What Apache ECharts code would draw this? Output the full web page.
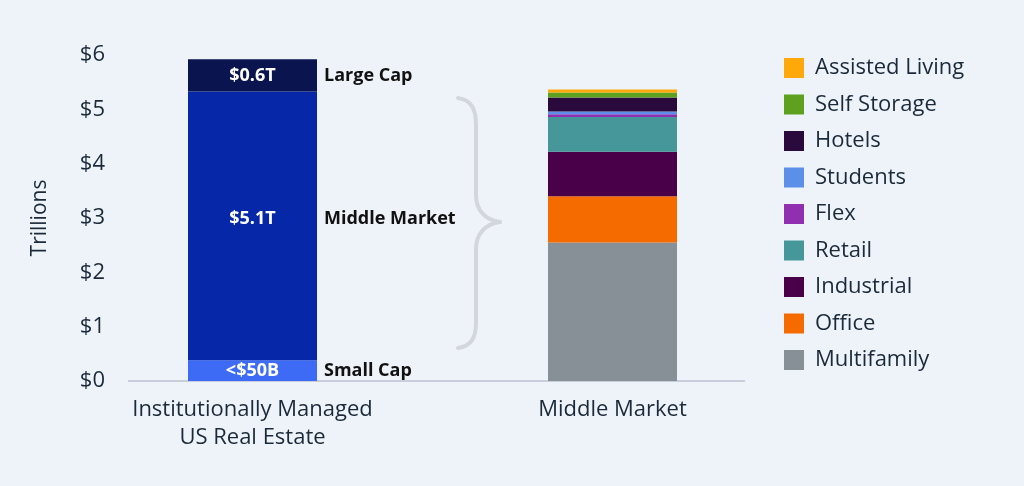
<!DOCTYPE html>
<html lang="en">
<head>
    <meta charset="UTF-8">
    <title>Middle Market</title>
    <style>
        html, body { margin: 0; padding: 0; background: #EEF3F9; }
        #main { width: 1024px; height: 486px; }
    </style>
</head>
<body>
<div id="main"></div>
<script src="https://cdn.jsdelivr.net/npm/echarts@6/dist/echarts.min.js"></script>
<script>
    // category labels on the x axis
    const categories = ['Institutionally Managed\nUS Real Estate', 'Middle Market'];
    const yTicks = [0, 1, 2, 3, 4, 5, 6];

    // left bar: market size by cap (trillions, bottom to top)
    const capNames = ['Small Cap', 'Middle Market', 'Large Cap'];
    const capValues = [0.38, 4.95, 0.59];
    const capLabels = ['<$50B', '$5.1T', '$0.6T'];
    const capColors = ['#3D6BF5', '#0527A8', '#0A1550'];

    // right bar: middle market by sector (trillions, bottom to top)
    const sectorNames = ['Multifamily', 'Office', 'Industrial', 'Retail', 'Flex',
        'Students', 'Hotels', 'Self Storage', 'Assisted Living'];
    const sectorValues = [2.55, 0.85, 0.82, 0.64, 0.05, 0.05, 0.26, 0.09, 0.055];
    const sectorColors = ['#878F97', '#F56B00', '#4A0048', '#46979A', '#9030B0',
        '#5B8FE8', '#2A0A3C', '#5DA11E', '#FFA80A'];

    const ink = '#1B2A3A';
    const font = 'Open Sans';
    const barW = 129;
    // plot area: bars are centred in two bands, axis line drawn from 128 to 745
    const gridLeft = 72.5, gridRight = 231.5, gridTop = 55, gridBottom = 105;
    const axisFrom = 128, axisTo = 745;

    const myChart = echarts.init(document.getElementById('main'));

    // the tall middle segment has its labels a little above centre
    const labelShift = (i) => (i === 1 ? [0, -7] : [0, 0]);

    const series = [];
    // left bar segments with inside value labels
    capNames.forEach((name, i) => {
        series.push({
            name: name,
            type: 'bar',
            stack: 'total',
            barWidth: barW,
            barGap: '-100%',
            itemStyle: {color: capColors[i]},
            label: {
                show: true,
                position: 'inside',
                offset: labelShift(i),
                formatter: capLabels[i],
                color: '#fff',
                fontSize: 18,
                fontWeight: 'bold',
                fontFamily: font
            },
            data: [capValues[i], null]
        });
    });
    // invisible copy of the left bar, carrying the names on the right
    capNames.forEach((name, i) => {
        series.push({
            name: name + ' label',
            type: 'bar',
            stack: 'ghost',
            barWidth: barW,
            barGap: '-100%',
            itemStyle: {color: 'rgba(0,0,0,0)'},
            label: {
                show: true,
                position: 'right',
                distance: 7,
                offset: labelShift(i),
                formatter: name,
                color: '#111',
                fontSize: 18,
                fontWeight: 'bold',
                fontFamily: font
            },
            silent: true,
            data: [capValues[i], null]
        });
    });
    // right bar segments
    sectorNames.forEach((name, i) => {
        series.push({
            name: name,
            type: 'bar',
            stack: 'total',
            barWidth: barW,
            barGap: '-100%',
            itemStyle: {color: sectorColors[i]},
            data: [null, sectorValues[i]]
        });
    });

    // curly brace pieces
    const braceStyle = {stroke: '#D3D7DD', lineWidth: 4, lineCap: 'round', fill: null};
    const curve = (x1, y1, cpx1, cpy1, cpx2, cpy2, x2, y2) => ({
        type: 'bezierCurve', silent: true, style: braceStyle,
        shape: {x1, y1, cpx1, cpy1, cpx2, cpy2, x2, y2}
    });
    const segment = (x1, y1, x2, y2, style) => ({
        type: 'line', silent: true, style: style || braceStyle,
        shape: {x1, y1, x2, y2}
    });
    const brace = [
        curve(458, 98, 472, 100, 476, 110, 476, 125),
        segment(476, 125, 476, 195),
        curve(476, 195, 476, 210, 485, 220, 500, 222),
        curve(500, 222, 485, 224, 476, 234, 476, 249),
        segment(476, 249, 476, 322),
        curve(476, 322, 476, 337, 472, 346, 458, 348)
    ];

    const option = {
        backgroundColor: '#EEF3F9',
        animation: false,
        textStyle: {fontFamily: font},
        grid: {left: gridLeft, right: gridRight, top: gridTop, bottom: gridBottom},
        legend: {
            orient: 'vertical',
            left: 784,
            top: 57,
            padding: 0,
            icon: 'rect',
            itemWidth: 20,
            itemHeight: 20,
            itemGap: 14.5,
            data: sectorNames.slice().reverse(),
            textStyle: {fontSize: 22, color: ink, fontFamily: font, padding: [0, 0, 0, 6]}
        },
        xAxis: {
            type: 'category',
            data: categories,
            splitLine: {show: false},
            axisTick: {show: false},
            axisLine: {show: false},
            axisLabel: {
                margin: 15,
                fontSize: 22,
                lineHeight: 28,
                color: ink,
                fontFamily: font
            }
        },
        yAxis: {
            type: 'value',
            min: yTicks[0],
            max: yTicks[yTicks.length - 1],
            interval: 1,
            offset: gridLeft - axisFrom,
            name: 'Trillions',
            nameLocation: 'middle',
            nameRotate: 90,
            nameGap: 77,
            nameTextStyle: {fontSize: 21, color: ink, fontFamily: font},
            splitLine: {show: false},
            axisTick: {show: false},
            axisLine: {show: false},
            axisLabel: {
                formatter: (v) => '$' + v,
                margin: 23,
                fontSize: 22,
                color: ink,
                fontFamily: font
            }
        },
        graphic: brace,
        series: series
    };

    myChart.setOption(option);

    // baseline under the bars, placed at the value-axis zero
    const y0 = myChart.convertToPixel({yAxisIndex: 0}, 0);
    myChart.setOption({
        graphic: brace.concat([
            segment(axisFrom, y0, axisTo, y0, {stroke: '#C8CFDA', lineWidth: 2})
        ])
    });
</script>
</body>
</html>
